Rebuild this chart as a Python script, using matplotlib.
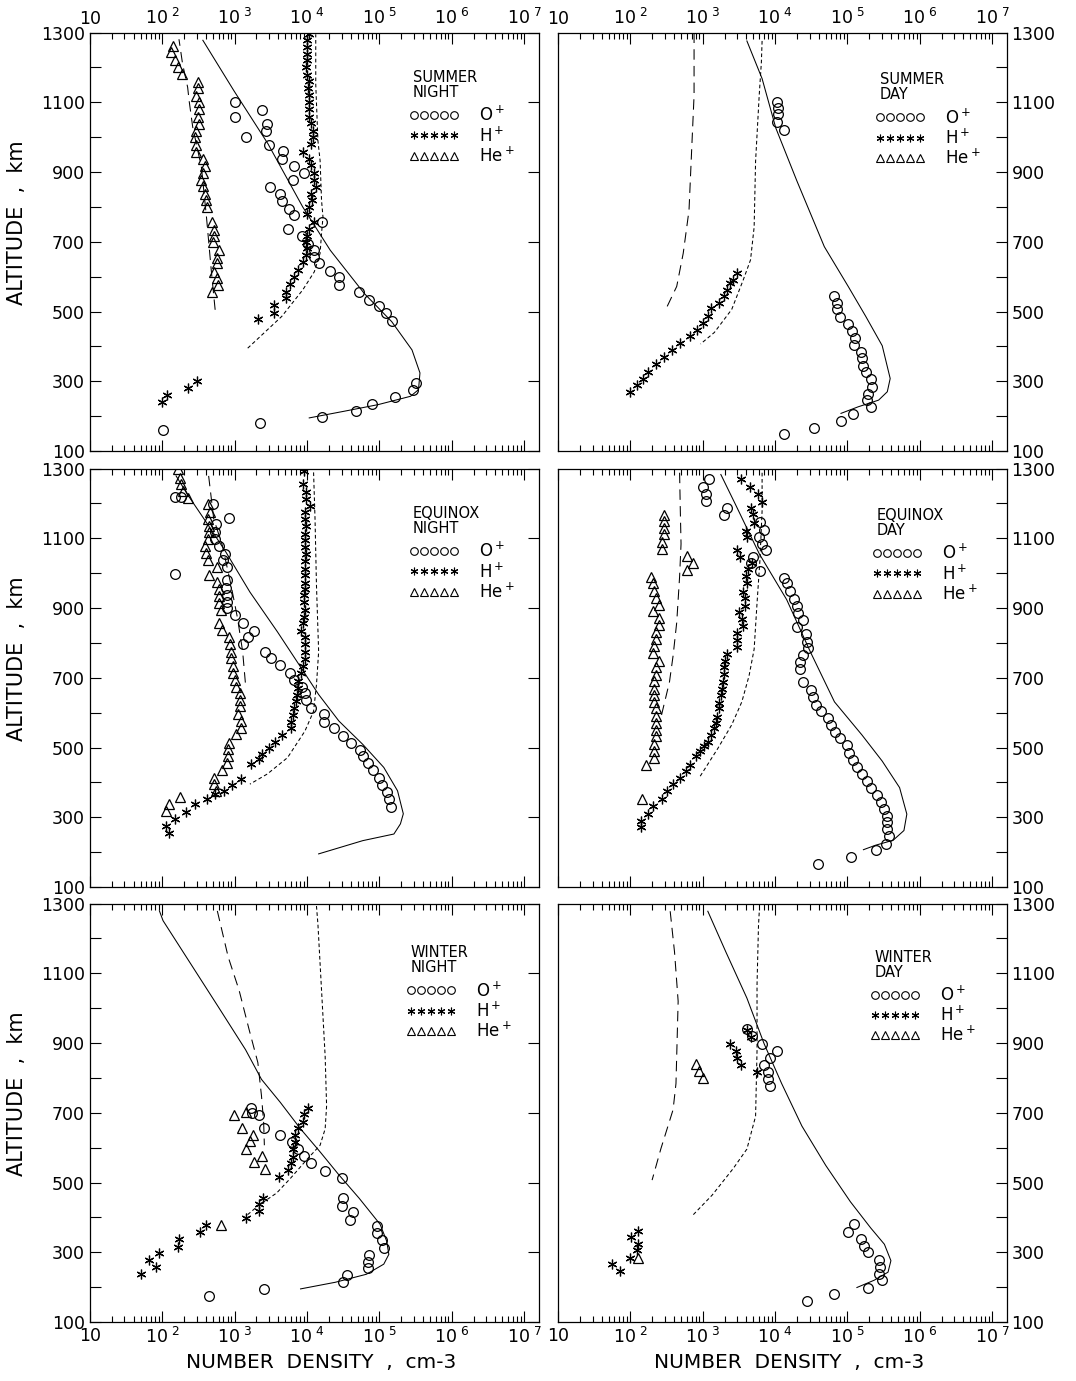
import numpy as np
import matplotlib.pyplot as plt
from matplotlib.ticker import FixedLocator, NullFormatter, LogLocator
from matplotlib.lines import Line2D

plt.rcParams['font.family'] = 'DejaVu Sans'
plt.rcParams['mathtext.default'] = 'regular'

# values are (log10 density [cm-3], altitude [km])

# ---- summer night
sn_o_model = [(2.56, 1278), (2.99, 1133), (3.46, 981), (3.94, 800), (4.32, 676), (4.79, 552),
              (5.17, 471), (5.45, 390), (5.56, 324), (5.54, 276), (5.43, 257), (4.98, 233),
              (4.51, 214), (4.03, 195)]
sn_h_model = [(3.18, 395), (3.65, 486), (3.94, 562), (4.10, 614), (4.18, 667), (4.20, 724),
              (4.22, 771), (4.20, 819), (4.18, 933), (4.15, 990), (4.12, 1152), (4.12, 1295)]
sn_he_model = [(2.73, 505), (2.68, 610), (2.61, 771), (2.54, 914), (2.42, 1029), (2.37, 1105),
               (2.35, 1143), (2.28, 1210), (2.23, 1281)]
sn_o = [(3.00, 1100), (3.01, 1059), (3.38, 1078), (3.44, 1038), (3.43, 1019), (3.15, 1000),
        (3.48, 979), (3.67, 959), (3.65, 937), (3.82, 917), (3.96, 897), (3.81, 876),
        (3.49, 857), (3.63, 838), (3.65, 816), (3.75, 795), (3.82, 776), (4.20, 757),
        (3.73, 737), (3.93, 716), (4.01, 695), (4.09, 676), (4.09, 657), (4.17, 638),
        (4.32, 617), (4.44, 598), (4.44, 576), (4.72, 556), (4.85, 533), (5.00, 517),
        (5.09, 495), (5.17, 474), (5.50, 295), (5.46, 274), (5.22, 255), (4.90, 236),
        (4.67, 216), (4.21, 198), (3.35, 179), (2.01, 160)]
sn_h = [(4.02, 1295), (4.00, 1278), (4.00, 1260), (4.00, 1240), (4.00, 1221), (3.99, 1200),
        (4.00, 1179), (4.02, 1160), (4.01, 1141), (4.03, 1121), (4.03, 1100), (4.03, 1081),
        (4.03, 1059), (4.06, 1040), (4.08, 1019), (4.08, 1000), (4.06, 981), (3.95, 957),
        (4.02, 938), (4.06, 919), (4.10, 897), (4.10, 876), (4.13, 857), (4.06, 838),
        (4.07, 819), (4.03, 800), (4.00, 779), (4.09, 757), (4.02, 738), (4.00, 716),
        (3.98, 700), (4.00, 681), (3.98, 662), (3.94, 643), (3.88, 619), (3.82, 600),
        (3.76, 580), (3.71, 557), (3.71, 538), (3.54, 519), (3.54, 497), (3.32, 478),
        (2.48, 300), (2.35, 281), (2.06, 260), (1.99, 241)]
sn_he = [(2.15, 1262), (2.12, 1243), (2.18, 1221), (2.22, 1202), (2.27, 1181), (2.49, 1157),
         (2.49, 1141), (2.46, 1119), (2.51, 1100), (2.51, 1081), (2.49, 1059), (2.51, 1038),
         (2.46, 1019), (2.45, 1000), (2.46, 979), (2.46, 957), (2.56, 938), (2.59, 917),
         (2.56, 897), (2.54, 876), (2.56, 859), (2.59, 838), (2.60, 819), (2.62, 800),
         (2.68, 757), (2.71, 735), (2.72, 716), (2.70, 700), (2.78, 676), (2.75, 655),
         (2.75, 638), (2.71, 614), (2.75, 595), (2.77, 576), (2.68, 557)]

# ---- summer day
sd_o_model = [(3.61, 1276), (3.82, 1168), (4.01, 1026), (4.30, 875), (4.68, 686), (5.01, 572),
              (5.25, 487), (5.48, 402), (5.59, 308), (5.55, 270), (5.43, 246), (5.15, 227),
              (4.91, 208)]
sd_h_model = [(3.82, 1276), (3.81, 1215), (3.78, 1120), (3.73, 931), (3.71, 742), (3.66, 648),
              (3.56, 591), (3.40, 506), (3.16, 440), (2.97, 407)]
sd_he_model = [(2.88, 1300), (2.88, 1120), (2.85, 979), (2.81, 790), (2.73, 667), (2.64, 572),
               (2.50, 511)]
sd_o = [(4.03, 1102), (4.04, 1085), (4.04, 1066), (4.03, 1045), (4.12, 1021), (4.82, 544),
        (4.85, 525), (4.86, 506), (4.90, 485), (5.01, 464), (5.06, 445), (5.11, 424),
        (5.09, 404), (5.18, 385), (5.20, 366), (5.21, 345), (5.25, 326), (5.32, 306),
        (5.34, 284), (5.29, 263), (5.27, 246), (5.32, 225), (5.08, 205), (4.91, 185),
        (4.54, 166), (4.12, 149)]
sd_h = [(2.00, 270), (2.09, 289), (2.17, 306), (2.25, 326), (2.36, 350), (2.46, 371),
        (2.57, 391), (2.68, 410), (2.82, 429), (2.92, 447), (3.01, 468), (3.07, 487),
        (3.11, 511), (3.22, 525), (3.29, 546), (3.34, 563), (3.37, 582), (3.42, 591),
        (3.47, 610)]
sd_he = []

# ---- equinox night
en_o_model = [(2.19, 1279), (2.36, 1222), (2.64, 1136), (2.88, 1060), (3.21, 946), (3.59, 832),
              (3.92, 728), (4.16, 652), (4.44, 576), (4.77, 509), (5.06, 443), (5.25, 376),
              (5.33, 310), (5.29, 281), (5.20, 252), (4.77, 233), (4.16, 195)]
en_h_model = [(4.09, 1289), (4.11, 1156), (4.13, 965), (4.16, 775), (4.13, 680), (4.09, 604),
              (3.97, 547), (3.73, 471), (3.45, 424), (3.21, 395)]
en_he_model = [(2.64, 1279), (2.71, 1156), (2.83, 1079), (2.95, 965), (3.04, 870), (3.11, 775),
               (3.15, 680)]
en_o = [(2.18, 1219), (2.26, 1219), (2.18, 999), (2.92, 1157), (2.70, 1198), (2.74, 1141),
        (2.73, 1117), (2.73, 1098), (2.78, 1077), (2.87, 1056), (2.84, 1037), (2.89, 1018),
        (2.89, 980), (2.88, 958), (2.90, 937), (2.89, 918), (2.89, 899), (3.00, 880),
        (3.11, 858), (3.27, 835), (3.18, 816), (3.11, 796), (3.42, 775), (3.50, 756),
        (3.63, 737), (3.77, 713), (3.82, 694), (3.93, 674), (3.97, 656), (3.99, 635),
        (4.06, 614), (4.23, 595), (4.24, 574), (4.37, 555), (4.49, 533), (4.61, 514),
        (4.73, 494), (4.77, 476), (4.84, 455), (4.91, 435), (4.99, 414), (5.03, 392),
        (5.10, 373), (5.13, 352), (5.16, 330)]
en_h = [(3.96, 1293), (3.94, 1255), (3.98, 1233), (3.99, 1213), (4.04, 1194), (3.97, 1175),
        (3.97, 1156), (3.98, 1135), (3.97, 1113), (3.97, 1094), (3.97, 1075), (3.98, 1056),
        (3.97, 1034), (3.97, 1013), (3.97, 994), (3.97, 973), (3.97, 956), (3.96, 937),
        (3.96, 916), (3.97, 894), (3.96, 875), (3.94, 856), (3.92, 835), (3.97, 816),
        (3.97, 796), (3.97, 775), (3.97, 754), (3.94, 733), (3.92, 713), (3.88, 692),
        (3.87, 671), (3.86, 652), (3.85, 633), (3.82, 612), (3.80, 593), (3.78, 574),
        (3.78, 555), (3.66, 535), (3.56, 517), (3.47, 500), (3.38, 481), (3.33, 466),
        (3.23, 452), (3.09, 409), (2.96, 393), (2.85, 376), (2.73, 367), (2.62, 352),
        (2.45, 338), (2.33, 314), (2.18, 295), (2.05, 276), (2.09, 254)]
en_he = [(2.21, 1298), (2.24, 1274), (2.26, 1255), (2.28, 1236), (2.36, 1217), (2.63, 1198),
         (2.66, 1175), (2.63, 1156), (2.64, 1136), (2.64, 1117), (2.63, 1097), (2.59, 1077),
         (2.61, 1058), (2.63, 1037), (2.76, 1018), (2.64, 996), (2.76, 975), (2.78, 956),
         (2.79, 935), (2.79, 915), (2.81, 894), (2.79, 856), (2.83, 837), (2.92, 818),
         (2.93, 796), (2.95, 775), (2.95, 756), (2.97, 735), (2.98, 715), (3.00, 694),
         (3.02, 675), (3.07, 655), (3.08, 637), (3.07, 618), (3.04, 595), (3.09, 576),
         (3.09, 555), (3.02, 538), (2.92, 514), (2.91, 495), (2.91, 476), (2.90, 457),
         (2.82, 435), (2.71, 414), (2.71, 395), (2.74, 376), (2.25, 357), (2.09, 338),
         (2.05, 319)]

# ---- equinox day
ed_o_model = [(3.25, 1283), (3.45, 1198), (3.78, 1056), (4.16, 924), (4.49, 773), (4.82, 631),
              (5.20, 536), (5.48, 461), (5.72, 385), (5.82, 309), (5.78, 262), (5.63, 234),
              (5.39, 220), (5.22, 207)]
ed_h_model = [(3.82, 1288), (3.82, 1179), (3.79, 1037), (3.75, 914), (3.71, 782), (3.64, 706),
              (3.54, 631), (3.40, 565), (3.21, 498), (2.95, 413)]
ed_he_model = [(2.68, 1288), (2.69, 1179), (2.70, 1084), (2.68, 990), (2.64, 858), (2.59, 763),
               (2.54, 688), (2.43, 593)]
ed_o = [(3.08, 1269), (3.00, 1248), (3.05, 1226), (3.04, 1207), (3.33, 1188), (3.29, 1168),
        (3.79, 1146), (3.85, 1125), (3.78, 1105), (3.82, 1084), (3.87, 1066), (3.69, 1047),
        (3.67, 1028), (3.79, 1006), (4.12, 987), (4.16, 971), (4.20, 949), (4.26, 927),
        (4.30, 907), (4.31, 886), (4.38, 865), (4.30, 846), (4.42, 825), (4.44, 804),
        (4.46, 785), (4.38, 766), (4.34, 744), (4.35, 725), (4.39, 688), (4.49, 664),
        (4.52, 645), (4.56, 623), (4.64, 604), (4.73, 585), (4.77, 565), (4.83, 544),
        (4.89, 527), (4.99, 506), (5.02, 484), (5.07, 464), (5.13, 444), (5.20, 423),
        (5.27, 404), (5.32, 383), (5.41, 364), (5.46, 344), (5.50, 324), (5.54, 305),
        (5.55, 286), (5.55, 267), (5.58, 245), (5.53, 224), (5.40, 206), (5.05, 187),
        (4.59, 166)]
ed_h = [(3.53, 1269), (3.65, 1247), (3.76, 1226), (3.82, 1205), (3.66, 1188), (3.69, 1170),
        (3.71, 1144), (3.60, 1122), (3.61, 1105), (3.48, 1067), (3.52, 1047), (3.68, 1028),
        (3.63, 1011), (3.60, 992), (3.61, 971), (3.56, 947), (3.59, 929), (3.58, 907),
        (3.50, 888), (3.54, 869), (3.55, 848), (3.48, 829), (3.48, 809), (3.48, 787),
        (3.34, 768), (3.31, 749), (3.30, 730), (3.29, 711), (3.28, 689), (3.27, 669),
        (3.25, 650), (3.23, 629), (3.22, 612), (3.20, 588), (3.18, 569), (3.15, 555),
        (3.11, 536), (3.07, 517), (3.02, 503), (2.96, 489), (2.90, 475), (2.83, 451),
        (2.77, 432), (2.69, 413), (2.59, 395), (2.50, 376), (2.44, 352), (2.31, 333),
        (2.24, 309), (2.15, 290), (2.14, 272)]
ed_he = [(2.47, 1168), (2.47, 1149), (2.47, 1130), (2.47, 1111), (2.44, 1089), (2.44, 1070),
         (2.78, 1049), (2.86, 1030), (2.78, 1009), (2.28, 990), (2.31, 971), (2.33, 950),
         (2.36, 929), (2.39, 910), (2.31, 891), (2.40, 872), (2.39, 850), (2.36, 831),
         (2.35, 810), (2.32, 790), (2.31, 771), (2.39, 749), (2.36, 730), (2.35, 709),
         (2.33, 690), (2.33, 669), (2.33, 650), (2.33, 631), (2.35, 612), (2.36, 591),
         (2.36, 569), (2.36, 550), (2.35, 532), (2.33, 510), (2.32, 491), (2.33, 470),
         (2.22, 451), (2.16, 352)]

# ---- winter night
wn_o_model = [(1.96, 1279), (2.01, 1251), (2.39, 1128), (2.77, 1005), (3.15, 881), (3.37, 796),
              (3.63, 730), (3.91, 654), (4.18, 588), (4.44, 522), (4.72, 455), (5.01, 380),
              (5.10, 332), (5.13, 294), (5.06, 266), (4.82, 237), (4.39, 214), (3.91, 195)]
wn_h_model = [(4.13, 1293), (4.15, 1241), (4.20, 1052), (4.25, 862), (4.27, 720), (4.25, 654),
              (4.18, 607), (4.01, 569), (3.77, 512), (3.58, 470), (3.34, 436), (3.15, 403)]
wn_he_model = [(2.76, 1279), (2.91, 1147), (3.06, 1052), (3.20, 938), (3.32, 844), (3.37, 749),
               (3.40, 673), (3.41, 607)]
wn_o = [(3.22, 715), (3.24, 700), (3.34, 694), (3.40, 656), (3.62, 635), (3.79, 616),
        (3.87, 597), (3.96, 576), (4.05, 555), (4.25, 534), (4.48, 512), (4.50, 455),
        (4.48, 434), (4.63, 416), (4.60, 394), (4.96, 375), (4.97, 356), (5.03, 334),
        (5.07, 313), (4.86, 292), (4.84, 273), (4.84, 255), (4.55, 235), (4.50, 214),
        (3.40, 195), (2.64, 176)]
wn_h = [(4.01, 715), (3.96, 696), (3.94, 675), (3.87, 656), (3.84, 635), (3.84, 616),
        (3.80, 595), (3.80, 574), (3.78, 555), (3.74, 536), (3.61, 515), (3.39, 457),
        (3.34, 438), (3.33, 419), (3.15, 398), (2.60, 378), (2.52, 358), (2.23, 337),
        (2.21, 316), (1.95, 297), (1.81, 277), (1.91, 258), (1.71, 237)]
wn_he = [(2.99, 695), (3.15, 701), (3.10, 656), (3.25, 635), (3.21, 618), (3.15, 597),
         (3.38, 577), (3.26, 558), (3.42, 538), (2.81, 377)]

# ---- winter day
wd_o_model = [(3.07, 1278), (3.32, 1161), (3.61, 1029), (3.85, 897), (4.09, 784), (4.37, 662),
              (4.70, 549), (5.04, 445), (5.32, 370), (5.51, 323), (5.60, 276), (5.56, 243),
              (5.37, 220), (5.13, 199)]
wd_h_model = [(3.78, 1274), (3.77, 1236), (3.75, 1067), (3.75, 878), (3.73, 690), (3.61, 596),
              (3.42, 540), (3.13, 464), (2.87, 408)]
wd_he_model = [(2.55, 1278), (2.61, 1161), (2.66, 1020), (2.63, 784), (2.59, 709), (2.42, 596),
               (2.30, 507)]
wd_o = [(3.61, 940), (3.68, 919), (3.82, 897), (4.03, 876), (3.93, 858), (3.84, 836),
        (3.90, 817), (3.90, 798), (3.93, 778), (5.09, 380), (5.01, 359), (5.18, 339),
        (5.23, 318), (5.28, 300), (5.44, 279), (5.45, 257), (5.43, 238), (5.47, 220),
        (5.28, 199), (4.81, 179), (4.44, 160)]
wd_h = [(3.61, 938), (3.67, 918), (3.37, 897), (3.46, 878), (3.48, 858), (3.53, 838),
        (3.75, 817), (2.11, 361), (2.01, 344), (2.10, 325), (2.09, 306), (2.00, 285),
        (1.74, 267), (1.86, 245)]
wd_he = [(2.90, 839), (2.95, 820), (3.01, 801), (2.11, 285)]

titles = ['SUMMER\nNIGHT', 'SUMMER\nDAY', 'EQUINOX\nNIGHT', 'EQUINOX\nDAY', 'WINTER\nNIGHT', 'WINTER\nDAY']
ion_labels = ['O$^+$', 'H$^+$', 'He$^+$']
x_ticks = [1e1, 1e2, 1e3, 1e4, 1e5, 1e6, 1e7]
x_tick_labels = ['10', '10$^{\\ 2}$', '10$^{\\ 3}$', '10$^{\\ 4}$', '10$^{\\ 5}$', '10$^{\\ 6}$', '10$^{\\ 7}$']
alt_ticks = [100, 300, 500, 700, 900, 1100, 1300]
alt_minor = [200, 400, 600, 800, 1000, 1200]

panels = [
    (sn_o_model, sn_h_model, sn_he_model, sn_o, sn_h, sn_he),
    (sd_o_model, sd_h_model, sd_he_model, sd_o, sd_h, sd_he),
    (en_o_model, en_h_model, en_he_model, en_o, en_h, en_he),
    (ed_o_model, ed_h_model, ed_he_model, ed_o, ed_h, ed_he),
    (wn_o_model, wn_h_model, wn_he_model, wn_o, wn_h, wn_he),
    (wd_o_model, wd_h_model, wd_he_model, wd_o, wd_h, wd_he),
]

line_styles = ['-', (0, (3.5, 2.5)), (0, (10, 6))]
markers = [dict(marker='o', ms=7, mfc='none', mew=0.9),
           dict(marker=(6, 2, 0), ms=7, mew=0.9),
           dict(marker='^', ms=7, mfc='none', mew=0.9)]

fig = plt.figure(figsize=(10.76, 13.81), dpi=100)
col_left = [0.0836, 0.5186]
row_bottom = [0.6734, 0.3577, 0.0427]
ax_w, ax_h = 0.417, 0.3030
title_pos = [(0.72, 0.91), (0.717, 0.905), (0.72, 0.91), (0.71, 0.905), (0.715, 0.90), (0.706, 0.89)]

for i, series in enumerate(panels):
    row, col = divmod(i, 2)
    ax = fig.add_axes([col_left[col], row_bottom[row], ax_w, ax_h])
    for curve, ls in zip(series[:3], line_styles):
        lg, alt = np.array(curve).T
        ax.plot(10 ** lg, alt, color='k', lw=0.75, ls=ls)
    for pts, mk in zip(series[3:], markers):
        if len(pts):
            lg, alt = np.array(pts).T
            ax.plot(10 ** lg, alt, ls='none', color='k', **mk)

    ax.set_xscale('log')
    ax.set_xlim(10, 10 ** 7.2)
    ax.set_ylim(100, 1300)
    ax.xaxis.set_major_locator(FixedLocator(x_ticks))
    ax.xaxis.set_minor_locator(LogLocator(base=10, subs=np.arange(2, 10)))
    ax.xaxis.set_minor_formatter(NullFormatter())
    ax.set_xticklabels(x_tick_labels)
    ax.yaxis.set_major_locator(FixedLocator(alt_ticks))
    ax.yaxis.set_minor_locator(FixedLocator(alt_minor))

    ax.tick_params(which='both', direction='in', top=True, bottom=True, labelsize=12.5)
    ax.tick_params(axis='x', which='major', length=8, width=0.8)
    ax.tick_params(axis='x', which='minor', length=4, width=0.8)
    ax.tick_params(axis='y', which='both', length=8, width=0.8)
    ax.tick_params(axis='x', labeltop=(row == 0), labelbottom=(row == 2))
    if col == 0:
        ax.tick_params(axis='y', left=True, right=True, labelleft=True, labelright=False)
        ax.set_ylabel('ALTITUDE  ,  km', fontsize=15)
        ax.yaxis.set_label_coords(-0.14, 0.545)
    else:
        ax.tick_params(axis='y', which='both', left=False, right=True, labelleft=False, labelright=True)
    if row == 2:
        ax.set_xlabel('NUMBER  DENSITY  ,  cm-3', fontsize=14.5)
        ax.xaxis.set_label_coords(0.515, -0.075)
    for sp in ax.spines.values():
        sp.set_linewidth(0.9)

    tx, ty = title_pos[i]
    ax.text(tx, ty, titles[i], transform=ax.transAxes, ha='left', va='top',
            fontsize=10.5, linespacing=1.0)
    handles = [Line2D([], [], ls='none', color='k', marker=m['marker'], ms=5.5,
                      mfc='none', mew=0.8) for m in markers]
    ax.legend(handles, ion_labels, loc='upper left', bbox_to_anchor=(tx - 0.01, ty - 0.085),
              frameon=False, numpoints=5, handlelength=3.0, handletextpad=1.2,
              labelspacing=0.05, borderpad=0, borderaxespad=0, fontsize=12)

fig.savefig('out.png', dpi=100)
